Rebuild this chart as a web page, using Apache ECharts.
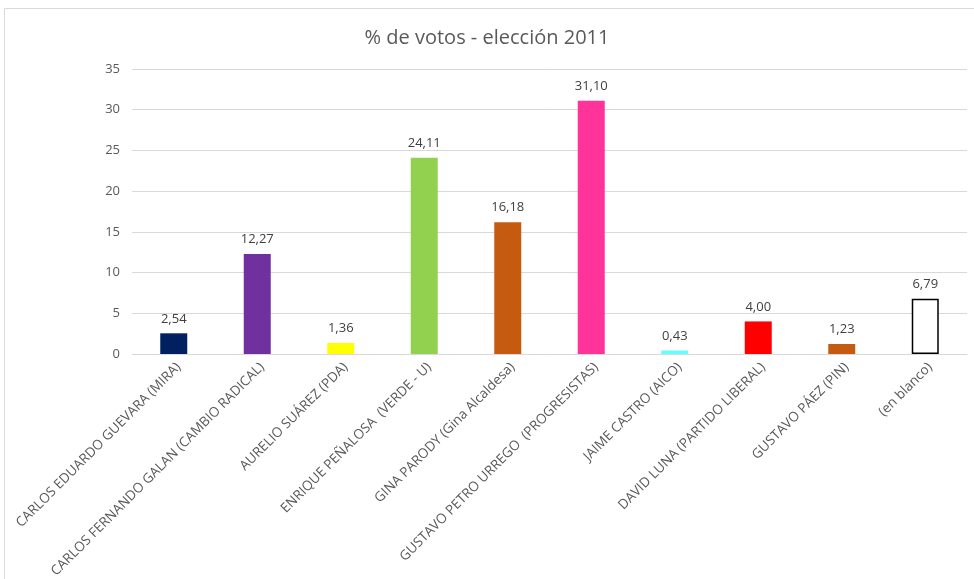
<!DOCTYPE html>
<html>
<head>
<meta charset="utf-8">
<script src="https://cdn.jsdelivr.net/npm/echarts@6/dist/echarts.min.js"></script>
<style>html,body{margin:0;padding:0;background:#fff}#c{width:974px;height:579px}</style>
</head>
<body>
<div id="c"></div>
<script>
const categories = [
  "CARLOS EDUARDO GUEVARA (MIRA)",
  "CARLOS FERNANDO GALAN (CAMBIO RADICAL)",
  "AURELIO SUÁREZ (PDA)",
  "ENRIQUE PEÑALOSA  (VERDE - U)",
  "GINA PARODY (Gina Alcaldesa)",
  "GUSTAVO PETRO URREGO  (PROGRESISTAS)",
  "JAIME CASTRO (AICO)",
  "DAVID LUNA (PARTIDO LIBERAL)",
  "GUSTAVO PÁEZ (PIN)",
  "(en blanco)"
];
const values = [2.54, 12.27, 1.36, 24.11, 16.18, 31.10, 0.43, 4.00, 1.23, 6.79];
const barColors = ["#002060", "#7030A0", "#FFFF00", "#92D050", "#C55A11", "#FF3399", "#66FFFF", "#FF0000", "#C55A11", "#FFFFFF"];
const yTicks = [0, 5, 10, 15, 20, 25, 30, 35];

const FONT = "'Open Sans', 'Noto Sans', sans-serif";
const chart = echarts.init(document.getElementById('c'), null, {renderer: 'canvas'});
const data = values.map((v, i) => ({
  value: v,
  itemStyle: {
    color: barColors[i],
    borderColor: i === values.length - 1 ? '#000000' : barColors[i],
    borderWidth: i === values.length - 1 ? 1.5 : 0
  }
}));
chart.setOption({
  animation: false,
  backgroundColor: '#ffffff',
  graphic: [{
    type: 'rect',
    shape: {x: 4.5, y: 8.5, width: 980, height: 600},
    style: {fill: 'none', stroke: '#d9d9d9', lineWidth: 1},
    silent: true
  }],
  title: {
    text: '% de votos - elección 2011',
    left: 'center',
    top: 23,
    textStyle: {fontFamily: FONT, fontSize: 20, fontWeight: 'normal', color: '#595959'}
  },
  grid: {left: 132, right: 7, top: 69, bottom: 225, containLabel: false, outerBoundsMode: 'none'},
  xAxis: {
    type: 'category',
    data: categories,
    axisLine: {show: true, lineStyle: {color: '#d9d9d9', width: 1}},
    axisTick: {show: false},
    axisLabel: {
      rotate: 45,
      interval: 0,
      margin: 6,
      verticalAlign: 'top',
      fontFamily: FONT,
      fontSize: 13.5,
      color: '#595959'
    }
  },
  yAxis: {
    type: 'value',
    min: 0,
    max: 35,
    interval: 5,
    axisLine: {show: false},
    axisTick: {show: false},
    splitLine: {lineStyle: {color: '#d9d9d9', width: 1}},
    axisLabel: {
      margin: 12,
      fontFamily: FONT,
      fontSize: 13,
      color: '#595959',
      formatter: v => yTicks.includes(v) ? String(v) : ''
    }
  },
  series: [{
    type: 'bar',
    data: data,
    barWidth: 27,
    label: {
      show: true,
      position: 'top',
      distance: 8,
      fontFamily: FONT,
      fontSize: 13,
      color: '#404040',
      formatter: p => p.value.toFixed(2).replace('.', ',')
    }
  }]
});
</script>
</body>
</html>
